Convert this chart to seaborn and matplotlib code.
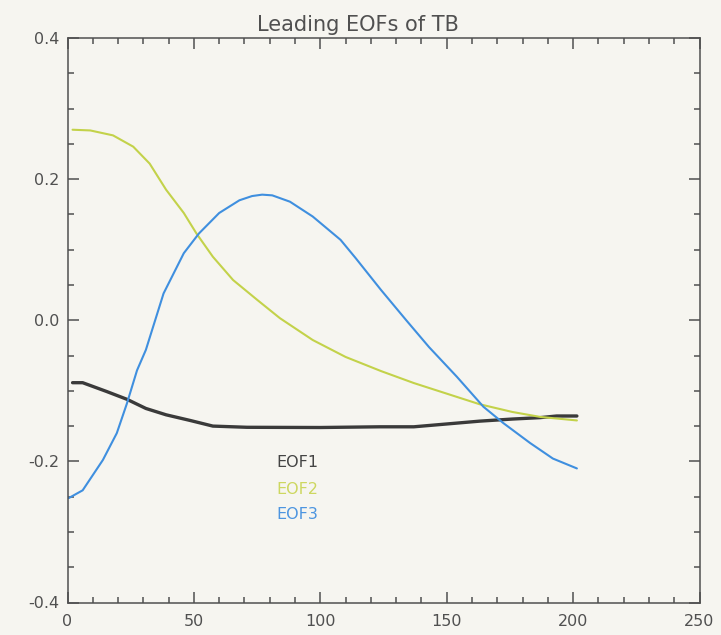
'''Leading EOFs of TB - redrawn with seaborn'''

import numpy as np
import pandas as pd
import matplotlib
matplotlib.use("Agg")
import matplotlib.pyplot as plt
from matplotlib.ticker import MultipleLocator
import seaborn as sns

#==================================== DATA ====================================
eof1_x = [2, 6, 15.5, 23.5, 31, 39, 48.5, 57.5, 71, 100, 123.5, 137, 150, 163, 176, 187, 193.5, 201.5]
eof1_y = [-0.0885, -0.0885, -0.101, -0.112, -0.125, -0.134, -0.142, -0.150, -0.1517, -0.152,
          -0.151, -0.151, -0.147, -0.143, -0.140, -0.138, -0.1357, -0.1357]

eof2_x = [2, 9, 18, 26, 32.5, 39, 46, 51, 57.5, 65.5, 75, 84, 97, 110, 124, 137, 150, 163, 176, 187, 201.5]
eof2_y = [0.270, 0.269, 0.262, 0.246, 0.222, 0.185, 0.152, 0.123, 0.090, 0.057, 0.029, 0.003,
          -0.028, -0.052, -0.072, -0.089, -0.104, -0.119, -0.130, -0.137, -0.142]

eof3_x = [0.5, 6, 14, 19.5, 23.5, 27.5, 31, 38, 46, 52, 60, 68, 73, 77, 81, 88, 97, 108, 114, 124, 134,
          143, 154, 164.5, 172.5, 183, 192, 201.5]
eof3_y = [-0.252, -0.241, -0.198, -0.160, -0.118, -0.071, -0.042, 0.038, 0.095, 0.123, 0.152,
          0.170, 0.176, 0.178, 0.177, 0.168, 0.147, 0.114, 0.088, 0.043, 0.000, -0.038, -0.080,
          -0.1225, -0.146, -0.174, -0.196, -0.210]

series_names = ["EOF1", "EOF2", "EOF3"]
ytick_vals = [-0.4, -0.2, 0.0, 0.2, 0.4]
ytick_labels = ["-0.4", "-0.2", "0.0", "0.2", "0.4"]
#==============================================================================

colors = {"EOF1": "#3a3a3a", "EOF2": "#c3d24a", "EOF3": "#3f8fdf"}
widths = {"EOF1": 2.4, "EOF2": 1.5, "EOF3": 1.5}
label_colors = {"EOF1": "#444444", "EOF2": "#cdd760", "EOF3": "#4d95e0"}
bg = "#f6f5f0"
ink = "#505050"

#long table for seaborn
frames = []
for name, xs, ys in zip(series_names, [eof1_x, eof2_x, eof3_x], [eof1_y, eof2_y, eof3_y]):
    frames.append(pd.DataFrame({"x": xs, "value": ys, "series": name}))
df = pd.concat(frames, ignore_index=True)

sns.set_style("ticks", {"xtick.direction": "in", "ytick.direction": "in"})
plt.rcParams['font.family'] = ['DejaVu Sans']
plt.rcParams['xtick.direction'] = 'in'
plt.rcParams['ytick.direction'] = 'in'

fig = plt.figure(figsize=(7.21, 6.35), dpi=100, facecolor=bg)
ax = fig.add_axes([67.5 / 721, 1 - 602.5 / 635, 632 / 721, 564.5 / 635])
ax.set_facecolor(bg)

for name in series_names:
    sns.lineplot(data=df[df["series"] == name], x="x", y="value", color=colors[name],
                 lw=widths[name], sort=False, estimator=None, ax=ax, legend=False)

ax.set_xlim(0, 250)
ax.set_ylim(-0.4, 0.4)
ax.xaxis.set_major_locator(MultipleLocator(50))
ax.xaxis.set_minor_locator(MultipleLocator(10))
ax.set_yticks(ytick_vals)
ax.set_yticklabels(ytick_labels)
ax.yaxis.set_minor_locator(MultipleLocator(0.05))
ax.set_xlabel("")
ax.set_ylabel("")

ax.tick_params(which="both", direction="in", top=True, right=True, colors=ink, width=1.1)
ax.tick_params(which="major", length=8, labelsize=11.5, labelcolor=ink)
ax.tick_params(axis="x", which="major", pad=8)
ax.tick_params(axis="y", which="major", pad=6)
ax.tick_params(which="minor", length=4.5)
for sp in ax.spines.values():
    sp.set_visible(True)
    sp.set_color(ink)
    sp.set_linewidth(1.1)

#labels standing in for the legend
label_y = [-0.2016, -0.2405, -0.2757]
for name, ly in zip(series_names, label_y):
    ax.text(82.5, ly, name, color=label_colors[name], fontsize=11.5, va="center", ha="left")

fig.text(358 / 721, 1 - 31 / 635, "Leading EOFs of TB", ha="center", va="baseline",
         fontsize=15, color=ink)

plt.savefig("out.png", dpi=100, facecolor=bg)
